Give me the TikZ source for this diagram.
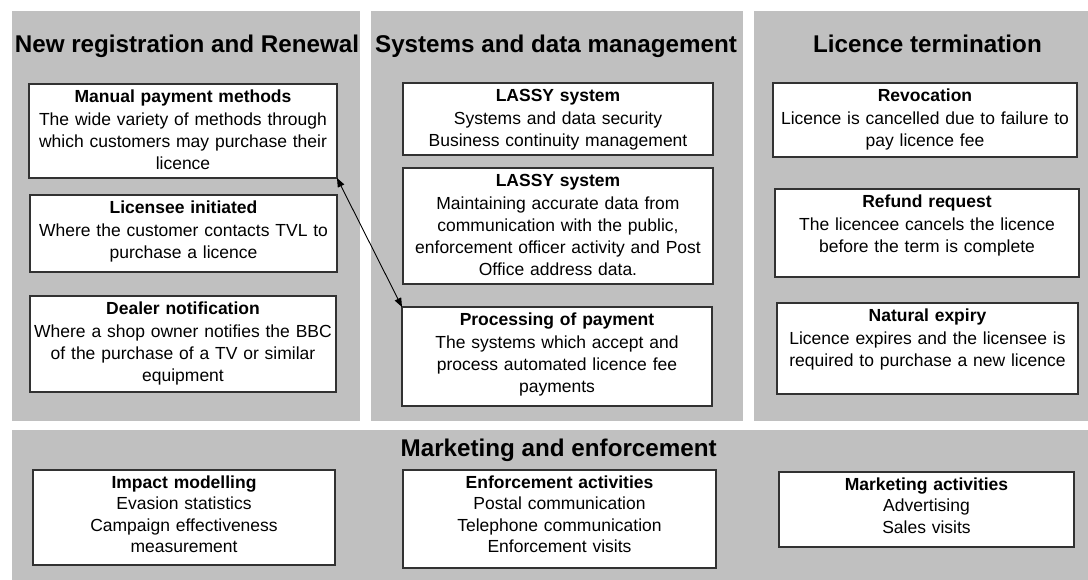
\documentclass[tikz,border=0pt]{standalone}
\usepackage{fontspec}
\setmainfont{Liberation Sans}
\usetikzlibrary{arrows.meta}

\definecolor{panelgray}{RGB}{192,192,192}
\definecolor{boxline}{RGB}{50,50,50}

% a grey area, given by its corners
\newcommand\panelarea[5]{%
  \node[panel, minimum width={#4-#2}, minimum height={#5-#3}, anchor=north west] (#1) at (#2,#3) {};}
% a white box with a bold heading and lines below it
\newcommand\infobox[8][3.1]{%
  \node[ibox, minimum width={#5-#3}, minimum height={#6-#4}, anchor=north west] (#2) at (#3,#4) {};
  \node[itext, text width={#5-#3}, anchor=north] (#2-t) at ([yshift=-#1pt]#2.north) {\strut\textbf{#7}\\#8};}

\begin{document}
\begin{tikzpicture}[x=1pt,y=-1pt,
  panel/.style={fill=panelgray, draw=none, inner sep=0pt, outer sep=0pt},
  ibox/.style={fill=white, draw=boxline, line width=1.3pt, inner sep=0pt, outer sep=0pt},
  itext/.style={inner sep=0pt, align=center, font=\fontsize{17.5}{22.2}\selectfont},
  ltext/.style={inner sep=0pt, align=center, font=\fontsize{17.5}{21.4}\selectfont},
  heading/.style={inner sep=0pt, anchor=base, font=\fontsize{24.2}{29}\selectfont\bfseries},
  link/.style={<->, >={Triangle[length=9pt,width=7pt]}, line width=0.9pt, black}]
\useasboundingbox (0,0) rectangle (1088,580);

% the four grey areas
\panelarea{p1}{12}{11}{360}{421}
\panelarea{p2}{371}{11}{743}{421}
\panelarea{p3}{754}{11}{1088}{421}
\panelarea{p4}{12}{430}{1088}{580}

\node[heading] (h1) at (187,53) {New registration and Renewal};
\node[heading] (h2) at (556,53) {Systems and data management};
\node[heading] (h3) at (927.5,53) {Licence termination};
\node[heading] (h4) at (558.7,456) {Marketing and enforcement};

% new registration and renewal
\infobox{man}{29}{84}{337}{178}{Manual payment methods}
  {The wide variety of methods through\\which customers may purchase their\\licence}
\infobox{lic}{30}{195}{337}{272}{Licensee initiated}
  {Where the customer contacts TVL to\\purchase a licence}
\infobox{dea}{30}{296}{336}{392}{Dealer notification}
  {Where a shop owner notifies the BBC\\of the purchase of a TV or similar\\equipment}

% systems and data management
\infobox{las1}{403}{83}{713}{155}{LASSY system}
  {Systems and data security\\Business continuity management}
\infobox{las2}{403}{168}{713}{284}{LASSY system}
  {Maintaining accurate data from\\communication with the public,\\enforcement officer activity and Post\\Office address data.}
\infobox{pro}{402}{307}{712}{406}{Processing of payment}
  {The systems which accept and\\process automated licence fee\\payments}

% licence termination
\infobox{rev}{773}{83}{1077}{157}{Revocation}
  {Licence is cancelled due to failure to\\pay licence fee}
\infobox{ref}{775}{189}{1079}{277}{Refund request}
  {The licencee cancels the licence\\before the term is complete}
\infobox{nat}{777}{303}{1078}{394}{Natural expiry}
  {Licence expires and the licensee is\\required to purchase a new licence}

% marketing and enforcement
\tikzset{itext/.style={ltext}}
\infobox[3.3]{imp}{33}{470}{335}{565}{Impact modelling}
  {Evasion statistics\\Campaign effectiveness\\measurement}
\infobox[3.3]{enf}{403}{470}{716}{568}{Enforcement activities}
  {Postal communication\\Telephone communication\\Enforcement visits}
\infobox[3.3]{mkt}{779}{472}{1074}{547}{Marketing activities}
  {Advertising\\Sales visits}

% link between manual payment and payment processing
\draw[link] (man.south east) -- (pro.north west);
\end{tikzpicture}
\end{document}
